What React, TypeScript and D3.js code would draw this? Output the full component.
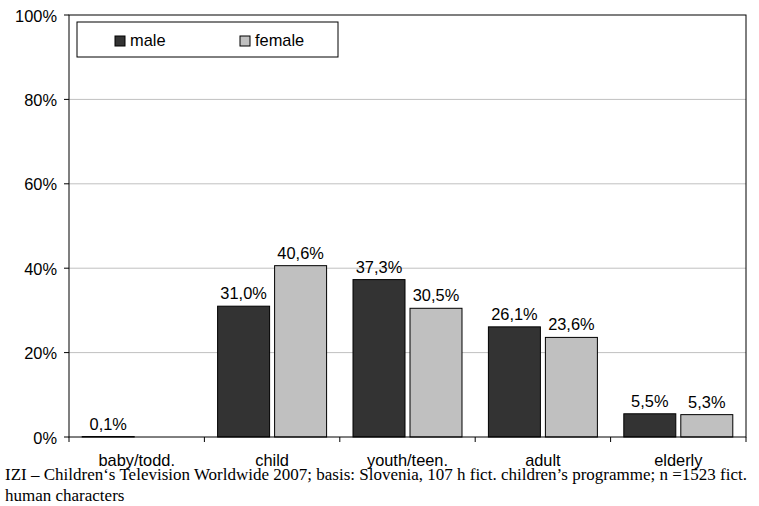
import React from "react";
import * as d3 from "d3";

const categories = ["baby/todd.", "child", "youth/teen.", "adult", "elderly"];
const maleValues = [0.1, 31.0, 37.3, 26.1, 5.5];
const femaleValues = [0, 40.6, 30.5, 23.6, 5.3];
const yTicks = [0, 20, 40, 60, 80, 100];
const seriesNames = ["male", "female"];
const seriesColors = ["#333333", "#c0c0c0"];
const captionLines = [
  "IZI – Children‘s Television Worldwide 2007; basis: Slovenia, 107 h fict. children’s programme; n =1523 fict.",
  "human characters",
];

export default function App() {
  const W = 759, H = 506;
  const left = 69, right = 746, top = 15, bottom = 437;
  const x = d3.scaleBand().domain(categories).range([left, right]).paddingInner(0).paddingOuter(0);
  const y = d3.scaleLinear().domain([0, 100]).range([bottom, top]);
  const bw = x.bandwidth();
  const barW = bw * 0.384;
  const gap = 5;
  const groupW = barW * 2 + gap;
  const fmt = (v: number) => v.toFixed(1).replace(".", ",") + "%";
  const series = [maleValues, femaleValues];
  const font = "'Liberation Sans', Arial, sans-serif";
  const fs = 16.4;

  return (
    <svg width={W} height={H} style={{ position: "absolute", left: 0, top: 0 }}>
      <rect x={0} y={0} width={W} height={H} fill="#fff" />
      {yTicks.filter(t => t > 0 && t < 100).map(t => (
        <line key={t} x1={left} x2={right} y1={y(t)} y2={y(t)} stroke="#c0c0c0" strokeWidth={1} />
      ))}
      {series.map((vals, si) =>
        vals.map((v, i) => {
          if (v <= 0) return null;
          const bx = (x(categories[i]) as number) + (bw - groupW) / 2 + si * (barW + gap);
          return (
            <g key={si + "-" + i}>
              <rect x={bx} y={y(v)} width={barW} height={bottom - y(v)} fill={seriesColors[si]} stroke="#000" strokeWidth={1} />
              <text x={bx + barW / 2} y={y(v) - 7} textAnchor="middle" fontFamily={font} fontSize={fs} fill="#000">{fmt(v)}</text>
            </g>
          );
        })
      )}
      <rect x={left} y={top} width={right - left} height={bottom - top} fill="none" stroke="#000" strokeWidth={1} />
      {yTicks.map(t => (
        <g key={t}>
          <line x1={left - 5} x2={left} y1={y(t)} y2={y(t)} stroke="#000" />
          <text x={57} y={y(t)} dy="0.4em" textAnchor="end" fontFamily={font} fontSize={fs}>{t}%</text>
        </g>
      ))}
      {categories.map((c) => (
        <g key={c}>
          <line x1={(x(c) as number)} x2={(x(c) as number)} y1={bottom} y2={bottom + 5} stroke="#000" />
          <text x={(x(c) as number) + bw / 2} y={466} textAnchor="middle" fontFamily={font} fontSize={fs}>{c}</text>
        </g>
      ))}
      <line x1={right} x2={right} y1={bottom} y2={bottom + 5} stroke="#000" />
      <rect x={77} y={22} width={261} height={35} fill="#fff" stroke="#000" strokeWidth={1} />
      {seriesNames.map((n, i) => (
        <g key={n}>
          <rect x={115 + i * 125} y={36} width={10} height={10} fill={seriesColors[i]} stroke="#000" />
          <text x={130 + i * 125} y={46} fontFamily={font} fontSize={fs}>{n}</text>
        </g>
      ))}
      {captionLines.map((l, i) => (
        <text key={i} x={5} y={480 + i * 21} fontFamily="'Liberation Serif', 'Times New Roman', serif" fontSize={17}>{l}</text>
      ))}
    </svg>
  );
}
